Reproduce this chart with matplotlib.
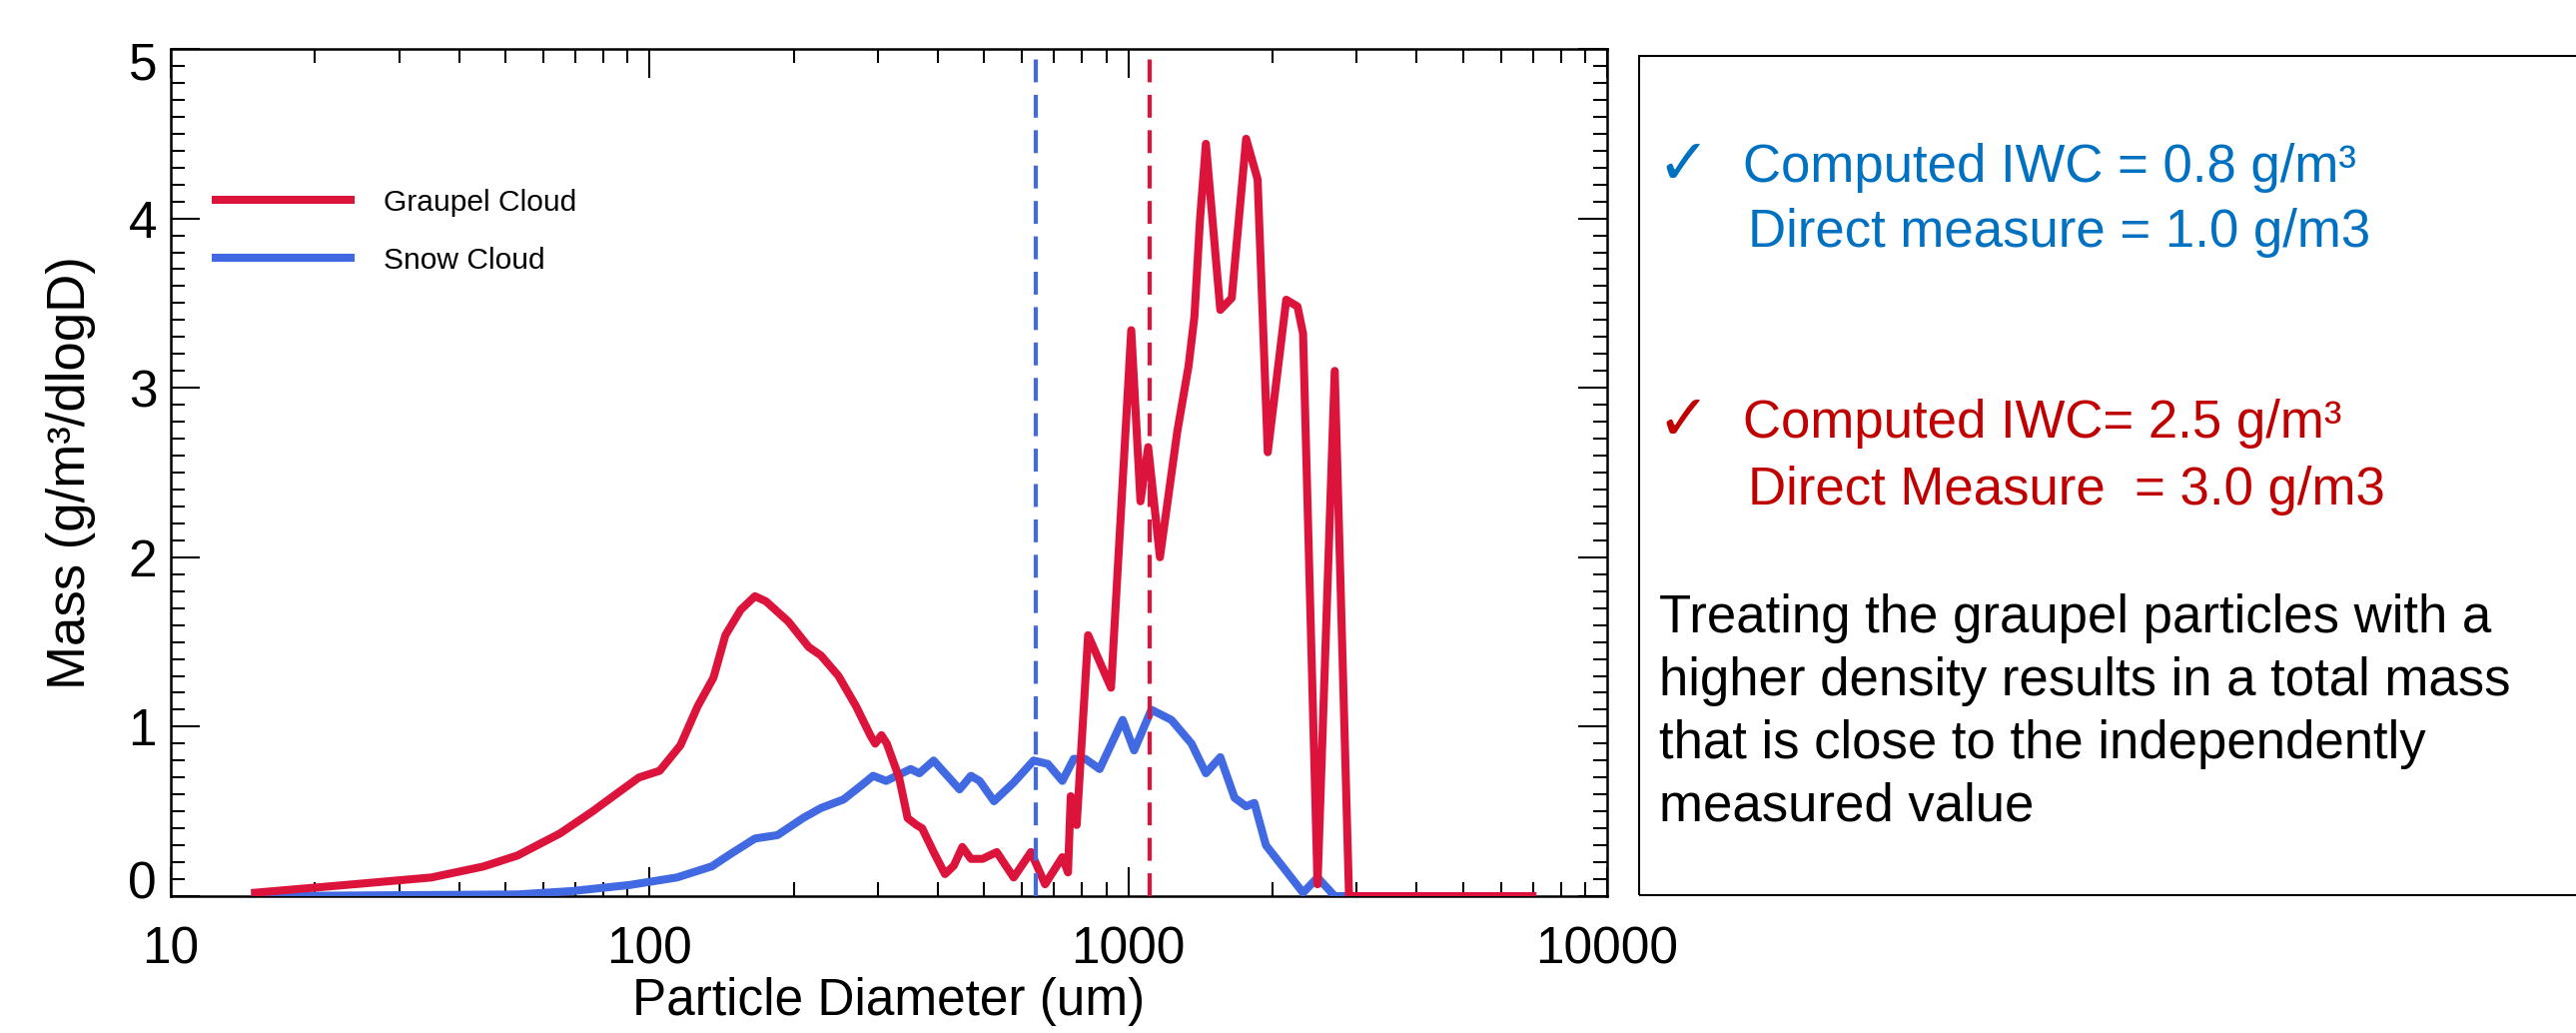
import numpy as np
import matplotlib.pyplot as plt
from matplotlib.ticker import LogLocator, MultipleLocator, NullFormatter
from matplotlib.patches import Rectangle
from matplotlib.transforms import ScaledTranslation

plt.rcParams['font.family'] = ['Liberation Sans', 'DejaVu Sans']

# particle diameter (um) and mass (g/m3/dlogD)
graupel_d = [15, 23, 35, 45, 53, 65, 76, 84, 95, 105, 116, 126, 136, 144, 155,
             166, 175, 195, 215, 228, 248, 270, 289, 296, 305, 313, 332, 346,
             361, 371, 392, 414, 432, 450, 469, 496, 531, 576, 626, 670, 728,
             748, 758, 780, 824, 920, 1014, 1060, 1100, 1164, 1265, 1336,
             1374, 1412, 1452, 1556, 1644, 1762, 1862, 1955, 2137, 2256, 2317,
             2484, 2698, 2890, 6980]
graupel_mass = [0.02, 0.065, 0.11, 0.175, 0.24, 0.37, 0.50, 0.59, 0.70, 0.74,
                0.89, 1.12, 1.29, 1.54, 1.69, 1.77, 1.74, 1.62, 1.47, 1.42,
                1.30, 1.12, 0.95, 0.90, 0.95, 0.90, 0.70, 0.46, 0.42, 0.40,
                0.26, 0.13, 0.18, 0.29, 0.22, 0.22, 0.26, 0.11, 0.26, 0.07,
                0.23, 0.14, 0.59, 0.42, 1.54, 1.23, 3.34, 2.33, 2.65, 2.0,
                2.74, 3.13, 3.42, 4.0, 4.44, 3.46, 3.53, 4.47, 4.23, 2.62,
                3.52, 3.48, 3.32, 0.07, 3.1, 0.0, 0.0]

snow_d = [15, 53, 69, 91, 114, 135, 146, 166, 185, 209, 228, 254, 276, 293,
          312, 351, 366, 392, 444, 469, 489, 524, 576, 634, 679, 728, 769,
          813, 871, 973, 1028, 1117, 1230, 1355, 1452, 1556, 1667, 1762,
          1833, 1938, 2133, 2317, 2484, 2698, 6980]
snow_mass = [0.0, 0.01, 0.03, 0.066, 0.11, 0.176, 0.24, 0.34, 0.36, 0.46,
             0.52, 0.57, 0.65, 0.71, 0.68, 0.75, 0.725, 0.80, 0.63, 0.71,
             0.68, 0.56, 0.67, 0.80, 0.78, 0.68, 0.81, 0.81, 0.75, 1.04,
             0.86, 1.10, 1.04, 0.90, 0.725, 0.82, 0.58, 0.53, 0.55, 0.30,
             0.15, 0.02, 0.11, 0.0, 0.0]

snow_mean_d = 640
graupel_mean_d = 1110

x_ticks = [10, 100, 1000, 10000]
x_ticklabels = ['10', '100', '1000', '10000']
y_ticks = [0, 1, 2, 3, 4, 5]

red = '#DC143C'
blue = '#4169E1'

W, H = 2579, 1034
fig = plt.figure(figsize=(W / 100, H / 100), dpi=100)
ax = fig.add_axes([171 / W, 1 - 897 / H, 1438 / W, 848 / H])

ax.plot(snow_d, snow_mass, color=blue, lw=5.8, label='Snow Cloud', zorder=3)
ax.plot(graupel_d, graupel_mass, color=red, lw=5.8, label='Graupel Cloud', zorder=4)
ax.axvline(snow_mean_d, color=blue, lw=3, linestyle=(0, (5.5, 3)), zorder=5)
ax.axvline(graupel_mean_d, color=red, lw=3, linestyle=(0, (5.5, 3)), zorder=5)

ax.set_xscale('log')
ax.set_xlim(10, 10000)
ax.set_ylim(0, 5)
ax.set_xticks(x_ticks)
ax.set_xticklabels(x_ticklabels)
ax.xaxis.set_minor_locator(LogLocator(base=10, subs=range(2, 10)))
ax.xaxis.set_minor_formatter(NullFormatter())
ax.set_yticks(y_ticks)
ax.set_yticklabels([str(v) for v in y_ticks])
ax.yaxis.set_minor_locator(MultipleLocator(0.1))

for s in ax.spines.values():
    s.set_linewidth(1.8)
ax.tick_params(which='both', direction='in', top=True, right=True, width=1.5)
ax.tick_params(which='major', length=21, labelsize=37)
ax.tick_params(which='minor', length=10)
ax.tick_params(axis='x', which='major', pad=21)
ax.tick_params(axis='y', which='major', pad=10)

# end labels are nudged inward like in the original
ylabs = ax.get_yticklabels()
ylabs[0].set_transform(ylabs[0].get_transform() + ScaledTranslation(0, 17 / 100, fig.dpi_scale_trans))
ylabs[-1].set_transform(ylabs[-1].get_transform() + ScaledTranslation(0, -12 / 100, fig.dpi_scale_trans))

ax.set_xlabel('Particle Diameter (um)', fontsize=37)
ax.xaxis.set_label_coords(0.5, -0.095)
ax.set_ylabel('Mass (g/m\u00b3/dlogD)', fontsize=38)
ax.yaxis.set_label_coords(-0.052, 0.5)

handles, labels = ax.get_legend_handles_labels()
ax.legend(handles[::-1], labels[::-1], loc='upper left', bbox_to_anchor=(0.031, 0.835),
          frameon=False, fontsize=21.6, handlelength=4.5, handletextpad=1.1,
          labelspacing=1.0, borderpad=0, borderaxespad=0)

# text panel on the right
fig.add_artist(Rectangle((1641 / W, 1 - 896 / H), (2600 - 1641) / W, 840 / H,
                         transform=fig.transFigure, fill=False, lw=1.5, ec='black'))

def fy(y):
    return 1 - y / H

tc_blue = '#0070C0'
tc_red = '#C00000'
fig.text(1658 / W, fy(184), '\u2713', color=tc_blue, fontsize=46, family=['DejaVu Sans'], va='baseline')
fig.text(1745 / W, fy(182), 'Computed IWC = 0.8 g/m\u00b3', color=tc_blue, fontsize=38, va='baseline')
fig.text(1750 / W, fy(247), 'Direct measure = 1.0 g/m3', color=tc_blue, fontsize=38, va='baseline')
fig.text(1658 / W, fy(440), '\u2713', color=tc_red, fontsize=46, family=['DejaVu Sans'], va='baseline')
fig.text(1745 / W, fy(438), 'Computed IWC= 2.5 g/m\u00b3', color=tc_red, fontsize=38, va='baseline')
fig.text(1750 / W, fy(505), 'Direct Measure  = 3.0 g/m3', color=tc_red, fontsize=38, va='baseline')

para = ['Treating the graupel particles with a',
        'higher density results in a total mass',
        'that is close to the independently',
        'measured value']
for i, line in enumerate(para):
    fig.text(1661 / W, fy(633 + 63 * i), line, color='black', fontsize=38, va='baseline')

fig.savefig('out.png', dpi=100)
